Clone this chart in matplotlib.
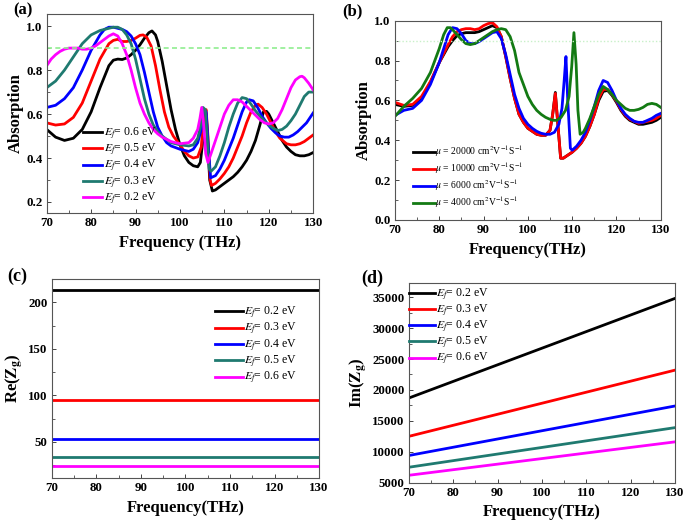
import matplotlib
matplotlib.use("Agg")
import matplotlib.pyplot as plt
from matplotlib.ticker import MultipleLocator, FormatStrFormatter

plt.rcParams['font.family'] = ['Liberation Serif', 'DejaVu Serif']
plt.rcParams['mathtext.fontset'] = 'stix'

# ---------------- Panel (a): absorption vs Ef ----------------
a_labels = ['$E_f$= 0.6 eV', '$E_f$= 0.5 eV', '$E_f$= 0.4 eV', '$E_f$= 0.3 eV', '$E_f$= 0.2 eV']
a_colors = ['#000000', '#ff0000', '#0000ff', '#1f7a70', '#ff00ff']

a_f06 = [70,72,74,76,78,80,82,84,85,86,87,88,89,90,91,92,93,93.7,94.5,95,96,97,98,99,100,101,102,103,104,104.6,105.1,105.5,105.9,106.3,106.7,107.3,108,109,110,111,112,113,114,115,116,117,118,118.8,119.5,120,121,122,123,124,125,126,127,128,129,130]
a_v06 = [0.53,0.495,0.48,0.49,0.53,0.61,0.72,0.82,0.845,0.85,0.848,0.855,0.87,0.89,0.915,0.945,0.97,0.978,0.96,0.93,0.84,0.73,0.62,0.53,0.46,0.41,0.38,0.365,0.36,0.38,0.47,0.62,0.6,0.45,0.3,0.25,0.255,0.27,0.285,0.3,0.315,0.335,0.36,0.39,0.43,0.48,0.55,0.61,0.612,0.6,0.56,0.52,0.48,0.45,0.43,0.415,0.41,0.41,0.415,0.425]

a_f05 = [70,72,74,76,78,80,82,84,85,86,87,88,89,90,91,91.7,92.5,93.5,94.5,95.5,96.5,97.5,98.5,100,101,102,103,104,104.8,105.4,105.9,106.3,106.8,107.1,108,109,110,111,112,113,114,115,116,117,117.6,118.5,119.5,120.5,121.5,122.5,124,125,126,127,128,129,130]
a_v05 = [0.56,0.55,0.555,0.585,0.65,0.75,0.85,0.92,0.935,0.94,0.93,0.93,0.935,0.945,0.958,0.96,0.95,0.91,0.82,0.71,0.61,0.54,0.5,0.46,0.43,0.41,0.4,0.405,0.45,0.6,0.62,0.5,0.3,0.275,0.285,0.305,0.33,0.36,0.4,0.45,0.5,0.56,0.61,0.64,0.645,0.63,0.6,0.56,0.52,0.49,0.465,0.46,0.46,0.465,0.475,0.49,0.505]

a_f04 = [70,72,74,76,78,80,82,83,84,85,86,87,88,89,90,91,92,93,94,95,96,97,98,100,101,102,103,104,104.8,105.4,105.9,106.4,106.9,108,109,110,111,112,113,114,115,115.6,116.5,117.5,118.5,119.5,120.5,121.5,122.5,123.5,124.5,125.5,126.5,127.5,128.5,129.5,130]
a_v04 = [0.63,0.64,0.67,0.72,0.8,0.89,0.96,0.985,0.995,0.995,0.99,0.985,0.975,0.955,0.92,0.87,0.79,0.7,0.61,0.54,0.5,0.47,0.455,0.44,0.435,0.43,0.44,0.47,0.53,0.62,0.61,0.45,0.31,0.32,0.35,0.39,0.44,0.49,0.55,0.61,0.655,0.665,0.66,0.63,0.59,0.56,0.535,0.515,0.5,0.495,0.495,0.505,0.52,0.54,0.56,0.59,0.605]

a_f03 = [70,72,74,76,78,80,82,84,85,86,87,88,89,90,91,92,93,94,95,96,98,100,102,103,104,104.6,105.2,105.7,106.1,106.6,107,108,109,110,111,112,113,114,115,116,117,118,119,120,121,122,123,124,125,126,127,128,129,130]
a_v03 = [0.72,0.75,0.8,0.86,0.92,0.96,0.98,0.99,0.995,0.995,0.985,0.96,0.92,0.85,0.76,0.67,0.6,0.55,0.52,0.5,0.47,0.46,0.455,0.46,0.49,0.54,0.63,0.62,0.5,0.35,0.34,0.36,0.41,0.47,0.54,0.6,0.65,0.675,0.67,0.645,0.615,0.59,0.57,0.55,0.535,0.525,0.53,0.545,0.57,0.6,0.64,0.68,0.7,0.7]

a_f02 = [70,71,72,73,74,75,76,77,78,79,80,81,82,83,84,85,86,87,88,89,90,91,92,93,94,95,96,97,98,100,102,103,104,104.5,104.9,105.3,105.8,106.3,107,108,109,110,111,112,113,114,115,116,117,118,119,120,121,122,123,124,125,126,127,127.5,128,129,130]
a_v02 = [0.82,0.85,0.87,0.885,0.895,0.9,0.9,0.9,0.895,0.895,0.9,0.91,0.925,0.94,0.955,0.965,0.955,0.92,0.87,0.8,0.72,0.65,0.6,0.56,0.53,0.51,0.495,0.485,0.475,0.465,0.47,0.49,0.53,0.58,0.63,0.56,0.42,0.38,0.42,0.48,0.54,0.6,0.64,0.665,0.665,0.655,0.635,0.615,0.595,0.575,0.56,0.555,0.56,0.58,0.62,0.67,0.72,0.755,0.77,0.772,0.765,0.74,0.71]

a_freqs = [a_f06, a_f05, a_f04, a_f03, a_f02]
a_vals = [a_v06, a_v05, a_v04, a_v03, a_v02]

# ---------------- Panel (b): absorption vs mobility ----------------
b_labels = [r'$\mu$ = 20000 cm$^2$V$^{-1}$S$^{-1}$', r'$\mu$ = 10000 cm$^2$V$^{-1}$S$^{-1}$',
            r'$\mu$ = 6000 cm$^2$V$^{-1}$S$^{-1}$', r'$\mu$ = 4000 cm$^2$V$^{-1}$S$^{-1}$']
b_colors = ['#000000', '#ff0000', '#0000ff', '#137a13']

b_f20k = [70,72,74,76,78,80,82,83,84,85,86,87,88,89,90,91,92,93,94,95,96,97,98,99,100,101,102,103,104,105,105.6,106.2,106.7,107.4,108,109,110,111,112,113,114,115,116,117,118,119,120,121,122,123,124,125,126,127,128,129,130]
b_v20k = [0.58,0.57,0.575,0.61,0.69,0.79,0.87,0.9,0.925,0.935,0.94,0.94,0.94,0.945,0.955,0.965,0.975,0.965,0.92,0.82,0.71,0.61,0.53,0.49,0.46,0.445,0.43,0.425,0.425,0.45,0.53,0.64,0.5,0.31,0.31,0.325,0.34,0.36,0.385,0.42,0.47,0.53,0.6,0.645,0.65,0.625,0.59,0.55,0.52,0.5,0.49,0.48,0.48,0.485,0.49,0.5,0.515]
b_f10k = b_f20k
b_v10k = [0.59,0.575,0.58,0.62,0.695,0.79,0.88,0.92,0.945,0.955,0.96,0.96,0.955,0.96,0.975,0.985,0.99,0.97,0.92,0.82,0.71,0.61,0.53,0.49,0.46,0.445,0.43,0.425,0.425,0.45,0.53,0.635,0.5,0.31,0.31,0.325,0.34,0.36,0.385,0.42,0.47,0.53,0.61,0.655,0.655,0.63,0.595,0.555,0.525,0.505,0.495,0.485,0.49,0.495,0.5,0.51,0.525]
b_f6k = [70,72,74,76,78,80,81,82,83,84,85,86,87,88,89,90,91,92,93,94,95,96,97,98,99,100,101,102,103,104,105,106,107,107.7,108.2,108.6,109,109.6,110,111,112,113,114,115,116,117,118,119,120,121,122,123,124,125,126,127,128,129,130]
b_v6k = [0.525,0.55,0.56,0.6,0.68,0.79,0.86,0.93,0.965,0.96,0.935,0.9,0.885,0.885,0.895,0.91,0.925,0.94,0.945,0.91,0.83,0.73,0.63,0.56,0.51,0.48,0.46,0.445,0.435,0.43,0.43,0.44,0.48,0.56,0.7,0.82,0.6,0.36,0.35,0.37,0.4,0.44,0.5,0.57,0.65,0.7,0.69,0.65,0.6,0.56,0.53,0.51,0.495,0.49,0.49,0.5,0.51,0.525,0.535]
b_f4k = [70,72,74,76,78,80,81,81.8,82.5,83,84,85,86,87,88,89,90,91,92,93,94,95,96,97,98,99,100,101,102,103,104,105,105.7,106.5,107.5,108.5,109.3,109.9,110.4,110.9,111.3,111.8,112.5,113,114,115,116,117,118,119,120,121,122,123,124,125,126,127,128,129,130]
b_v4k = [0.52,0.57,0.61,0.66,0.74,0.86,0.93,0.965,0.965,0.955,0.93,0.905,0.885,0.88,0.885,0.9,0.915,0.93,0.945,0.955,0.96,0.955,0.92,0.85,0.74,0.68,0.62,0.58,0.55,0.53,0.515,0.505,0.5,0.5,0.515,0.55,0.62,0.77,0.94,0.78,0.55,0.43,0.44,0.46,0.51,0.57,0.63,0.67,0.655,0.63,0.6,0.58,0.56,0.55,0.55,0.555,0.565,0.58,0.585,0.58,0.565]

b_freqs = [b_f20k, b_f10k, b_f6k, b_f4k]
b_vals = [b_v20k, b_v10k, b_v6k, b_v4k]

# ---------------- Panel (c): Re(Zg) ----------------
cd_labels = ['$E_f$= 0.2 eV', '$E_f$= 0.3 eV', '$E_f$= 0.4 eV', '$E_f$= 0.5 eV', '$E_f$= 0.6 eV']
cd_colors = ['#000000', '#ff0000', '#0000ff', '#1f7a70', '#ff00ff']
c_freq = [70, 130]
c_re = [213, 95, 53, 34, 24]

# ---------------- Panel (d): Im(Zg) ----------------
d_freq = [70, 130]
d_im_start = [18700, 12500, 9400, 7500, 6200]
d_im_end = [34800, 23200, 17400, 13900, 11600]

fig = plt.figure(figsize=(6.85, 5.25), dpi=100)
axa = fig.add_axes([0.0682, 0.5943, 0.389, 0.379])
axb = fig.add_axes([0.5766, 0.581, 0.388, 0.3796])
axc = fig.add_axes([0.0759, 0.0895, 0.3898, 0.379])
axd = fig.add_axes([0.597, 0.0806, 0.3883, 0.3804])


def style(ax, xlabel, ylabel, ymaj, ymin):
    ax.set_xlim(70, 130)
    ax.xaxis.set_major_locator(MultipleLocator(10))
    ax.xaxis.set_minor_locator(MultipleLocator(5))
    ax.yaxis.set_major_locator(MultipleLocator(ymaj))
    ax.yaxis.set_minor_locator(MultipleLocator(ymin))
    ax.tick_params(which='both', direction='in', top=False, right=False, labelsize=9.3, pad=3)
    ax.tick_params(which='major', length=3, width=0.7, color='#444444')
    ax.tick_params(which='minor', length=2, width=0.6, color='#444444')
    for lab in ax.get_xticklabels() + ax.get_yticklabels():
        lab.set_fontweight('bold')
    for sp in ax.spines.values():
        sp.set_linewidth(0.8)
        sp.set_color('#555555')
    ax.set_xlabel(xlabel, fontsize=12, fontweight='bold', labelpad=4)
    ax.set_ylabel(ylabel, fontsize=12, fontweight='bold', labelpad=2)


legkw = dict(frameon=False, borderpad=0, borderaxespad=0, loc='center left')

# (a)
for f, v, c, l in zip(a_freqs, a_vals, a_colors, a_labels):
    axa.plot(f, v, color=c, lw=2.0, label=l)
axa.axhline(0.9, color='#90ee90', lw=1.2, ls=(0, (3, 2)))
axa.set_ylim(0.15, 1.055)
style(axa, 'Frequency (THz)', 'Absorption', 0.2, 0.1)
axa.yaxis.set_major_formatter(FormatStrFormatter('%.1f'))
axa.legend(bbox_to_anchor=(0.136, 0.235), fontsize=8.5,
           handlelength=1.6, handletextpad=0.2, labelspacing=0.02, **legkw)

# (b)
for f, v, c, l in zip(b_freqs, b_vals, b_colors, b_labels):
    axb.plot(f, v, color=c, lw=2.0, label=l)
axb.axhline(0.9, color='#c8f0c8', lw=1.0, ls=(0, (1, 1.5)))
axb.set_ylim(0, 1.0)
style(axb, 'Frequency(THz)', 'Absorption', 0.2, 0.1)
axb.yaxis.set_major_formatter(FormatStrFormatter('%.1f'))
axb.legend(bbox_to_anchor=(0.066, 0.216), fontsize=6.9,
           handlelength=2.3, handletextpad=0.0, labelspacing=0.15, **legkw)

# (c)
for val, c, l in zip(c_re, cd_colors, cd_labels):
    axc.plot(c_freq, [val, val], color=c, lw=2.0, label=l)
axc.set_ylim(11, 225)
style(axc, 'Frequency(THz)', 'Re($\\mathbf{Z_g}$)', 50, 25)
axc.legend(bbox_to_anchor=(0.61, 0.666), fontsize=8.5,
           handlelength=2.4, handletextpad=0.1, labelspacing=0.02, **legkw)

# (d)
for s, e, c, l in zip(d_im_start, d_im_end, cd_colors, cd_labels):
    axd.plot(d_freq, [s, e], color=c, lw=2.0, label=l)
axd.set_ylim(5000, 37300)
style(axd, 'Frequency(THz)', 'Im($\\mathbf{Z_g}$)', 5000, 2500)
axd.legend(bbox_to_anchor=(0.0, 0.78), fontsize=8.5,
           handlelength=2.2, handletextpad=0.1, labelspacing=0.0, **legkw)

fig.text(0.019, 0.981, '(a)', fontsize=12, fontweight='bold', va='center')
fig.text(0.500, 0.978, '(b)', fontsize=12, fontweight='bold', va='center')
fig.text(0.010, 0.473, '(c)', fontsize=13, fontweight='bold', va='center')
fig.text(0.527, 0.470, '(d)', fontsize=13, fontweight='bold', va='center')

fig.savefig('out.png', dpi=100)
